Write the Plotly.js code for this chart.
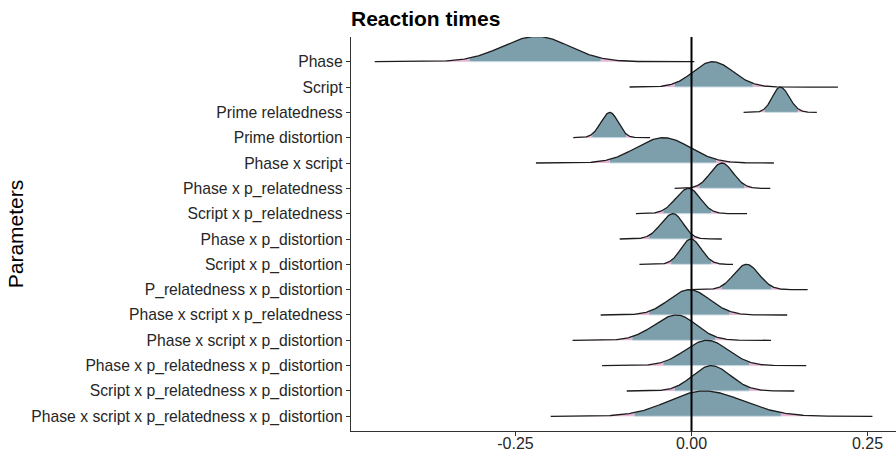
<!DOCTYPE html>
<html>
<head>
<meta charset="utf-8">
<script src="https://cdn.plot.ly/plotly-3.0.1.min.js"></script>
<style>html,body{margin:0;padding:0;background:#fff;}#chart{width:896px;height:451px;}</style>
</head>
<body>
<div id="chart"></div>
<script>
// Parameters, top to bottom
const paramNames = [
  "Phase", "Script", "Prime relatedness", "Prime distortion", "Phase x script",
  "Phase x p_relatedness", "Script x p_relatedness", "Phase x p_distortion",
  "Script x p_distortion", "P_relatedness x p_distortion",
  "Phase x script x p_relatedness", "Phase x script x p_distortion",
  "Phase x p_relatedness x p_distortion", "Script x p_relatedness x p_distortion",
  "Phase x script x p_relatedness x p_distortion"
];
// Posterior mode (peak of the density)
const modes     = [-0.220, 0.030, 0.126, -0.116, -0.040, 0.043, -0.004, -0.026, -0.001, 0.078, -0.003, -0.021, 0.022, 0.028, 0.018];
// Shaded (95%) interval bounds
const ciLow     = [-0.315, -0.024, 0.104, -0.141, -0.116, 0.011, -0.040, -0.060, -0.029, 0.043, -0.060, -0.084, -0.040, -0.024, -0.081];
const ciHigh    = [-0.129, 0.087, 0.151, -0.093, 0.035, 0.075, 0.028, 0.002, 0.028, 0.113, 0.054, 0.034, 0.082, 0.082, 0.127];
// Full range of the tails
const rangeLow  = [-0.450, -0.088, 0.074, -0.168, -0.221, -0.024, -0.079, -0.102, -0.074, -0.001, -0.129, -0.169, -0.127, -0.092, -0.200];
const rangeHigh = [0.004, 0.208, 0.178, -0.059, 0.117, 0.112, 0.079, 0.043, 0.059, 0.165, 0.136, 0.113, 0.163, 0.146, 0.257];
const xTickVals = [-0.25, 0, 0.25];
const xTickText = ["-0.25", "0.00", "0.25"];

const fillBlue = "rgb(125,158,171)";
const fillPink = "rgb(232,182,212)";
const lineCol = "#1c1c1c";
const n = paramNames.length;
const traces = [];

function dens(i, x) {
  const m = modes[i];
  const s = x < m ? (m - ciLow[i]) / 1.96 : (ciHigh[i] - m) / 1.96;
  const z = (x - m) / s;
  return Math.exp(-0.5 * z * z);
}
function curve(i, a, b, steps) {
  const xs = [], ys = [];
  const base = n - i;
  for (let k = 0; k <= steps; k++) {
    const x = a + (b - a) * k / steps;
    xs.push(x); ys.push(base + dens(i, x));
  }
  return {xs, ys};
}
function polygon(i, a, b, color) {
  const base = n - i;
  const c = curve(i, a, b, 80);
  const xs = c.xs.concat([b, a, a]);
  const ys = c.ys.concat([base, base, c.ys[0]]);
  return {x: xs, y: ys, type: "scatter", mode: "lines", fill: "toself",
          fillcolor: color, line: {width: 0}, hoverinfo: "skip", showlegend: false};
}

for (let i = 0; i < n; i++) {
  traces.push(polygon(i, rangeLow[i], ciLow[i], fillPink));
  traces.push(polygon(i, ciHigh[i], rangeHigh[i], fillPink));
  traces.push(polygon(i, ciLow[i], ciHigh[i], fillBlue));
  const base = n - i;
  traces.push({x: [ciLow[i], ciHigh[i]], y: [base, base], type: "scatter", mode: "lines",
               line: {color: "rgb(205,222,232)", width: 1}, hoverinfo: "skip", showlegend: false});
  const c = curve(i, rangeLow[i], rangeHigh[i], 300);
  traces.push({x: c.xs, y: c.ys, type: "scatter", mode: "lines",
               line: {color: lineCol, width: 1.3}, name: paramNames[i], showlegend: false});
}

const tickVals = paramNames.map((_, i) => n - i);

const layout = {
  width: 896, height: 451,
  margin: {l: 351, r: 0, t: 37, b: 20, pad: 0},
  paper_bgcolor: "#fff", plot_bgcolor: "#fff",
  font: {family: "Liberation Sans, Arial, sans-serif", color: "#262626", size: 15.7},
  title: {text: "<b>Reaction times</b>", x: 0, xref: "paper", xanchor: "left",
          y: 1 - 19 / 451, yref: "container", yanchor: "middle",
          font: {size: 21, color: "#000", family: "Liberation Sans, Arial, sans-serif"}},
  xaxis: {range: [-0.4837, 0.2905], tickvals: xTickVals, ticktext: xTickText,
          showgrid: false, zeroline: false, showline: true, linecolor: "#333", linewidth: 1.2,
          ticks: "outside", ticklen: 4, tickcolor: "#333", tickwidth: 1,
          ticklabelstandoff: -6,
          tickfont: {size: 16, color: "#262626"}, fixedrange: true},
  yaxis: {range: [0.42, 15.975], tickvals: tickVals, ticktext: paramNames,
          showgrid: false, zeroline: false, showline: true, linecolor: "#333", linewidth: 1.2,
          ticks: "outside", ticklen: 4, tickcolor: "#333", tickwidth: 1,
          tickfont: {size: 15.7, color: "#262626"},
          title: {text: "Parameters", font: {size: 21, color: "#000"}, standoff: 2},
          fixedrange: true},
  shapes: [{type: "line", xref: "x", yref: "paper", x0: 0, x1: 0, y0: 0, y1: 1,
            line: {color: "#000", width: 2}, layer: "above"}]
};

Plotly.newPlot("chart", traces, layout, {displayModeBar: false, staticPlot: true});
</script>
</body>
</html>
